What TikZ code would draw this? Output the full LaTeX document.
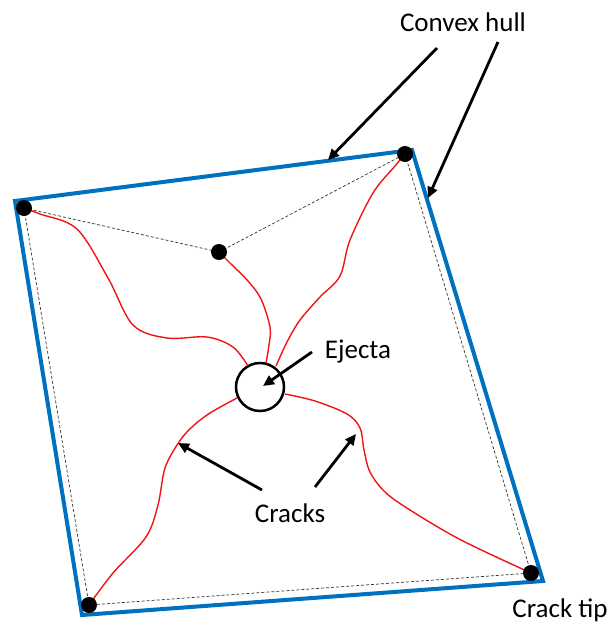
\documentclass[tikz,border=0pt]{standalone}
\usepackage{fontspec}
\setmainfont{Carlito}
\usetikzlibrary{arrows.meta}
\definecolor{hullblue}{RGB}{0,112,192}
\definecolor{crackred}{RGB}{240,20,20}
\tikzset{
  hull/.style={draw=hullblue, line width=4pt, line join=miter},
  hulldash/.style={draw=black!80, line width=0.7pt, dash pattern=on 3pt off 2pt},
  crack/.style={draw=crackred, line width=1.4pt},
  tipdot/.style={circle, fill=black, inner sep=0pt, minimum size=16pt},
  lbl/.style={font=\fontsize{27}{30}\selectfont, inner sep=0pt},
  pointer/.style={draw=black, line width=2.8pt, -{Triangle[length=11pt,width=10pt]}, shorten >=0pt},
}
\begin{document}
\begin{tikzpicture}[x=1pt,y=-1pt]
\useasboundingbox (0,0) rectangle (614,630);
% hull corners
\coordinate (h1) at (15,201);
\coordinate (h2) at (412,150);
\coordinate (h3) at (543,581);
\coordinate (h4) at (82,615);
\draw[hull] (h1) -- (h2) -- (h3) -- (h4) -- cycle;
% crack tips
\coordinate (tl) at (24,208);
\coordinate (mid) at (219,252);
\coordinate (tr) at (405,154);
\coordinate (br) at (531,573);
\coordinate (bl) at (89,605);
\draw[hulldash] (tl) -- (mid) -- (tr) -- (br) -- (bl) -- cycle;
% ejecta
\node[circle, draw=black, line width=2.5pt, minimum size=48pt, inner sep=0pt] (ej) at (260,387) {};
% cracks
\draw[crack] plot[smooth, tension=0.55] coordinates {(tl) (40,214) (77,229) (108,278) (133,325) (167,338) (207,337) (233,347) (248,366)};
\draw[crack] plot[smooth, tension=0.55] coordinates {(mid) (230,263) (248,281) (261,299) (270,327) (269,345) (266,363)};
\draw[crack] plot[smooth, tension=0.55] coordinates {(tr) (395,166) (373,193) (350,240) (340,276) (320,297) (300,320) (287,342) (276,366)};
\draw[crack] plot[smooth, tension=0.55] coordinates {(285,394) (315,401) (347,414) (360,428) (364,450) (370,472) (385,492) (410,510) (461,540) (br)};
\draw[crack] plot[smooth, tension=0.55] coordinates {(237,398) (210,413) (192,427) (179,442) (165,468) (158,505) (146,537) (113,573) (bl)};
% dots
\foreach \p in {tl,mid,tr,br,bl} \node[tipdot] (d\p) at (\p) {};
% labels
\node[lbl] (convex) at (463,22) {Convex hull};
\node[lbl] (ejecta) at (358,352) {Ejecta};
\node[lbl] (cracks) at (290,513) {Cracks};
\node[lbl] (cracktip) at (560,610) {Crack tip};
% pointer ends
\coordinate (c1s) at (437,48);  \coordinate (c1e) at (328,160);
\coordinate (c2s) at (498,42);  \coordinate (c2e) at (428,198);
\coordinate (es) at (312,352);  \coordinate (ee) at (263,386);
\coordinate (k1s) at (262,490); \coordinate (k1e) at (178,443);
\coordinate (k2s) at (315,487); \coordinate (k2e) at (356,434);
\draw[pointer] (c1s) -- (c1e);
\draw[pointer] (c2s) -- (c2e);
\draw[pointer] (es) -- (ee);
\draw[pointer] (k1s) -- (k1e);
\draw[pointer] (k2s) -- (k2e);
\end{tikzpicture}
\end{document}
